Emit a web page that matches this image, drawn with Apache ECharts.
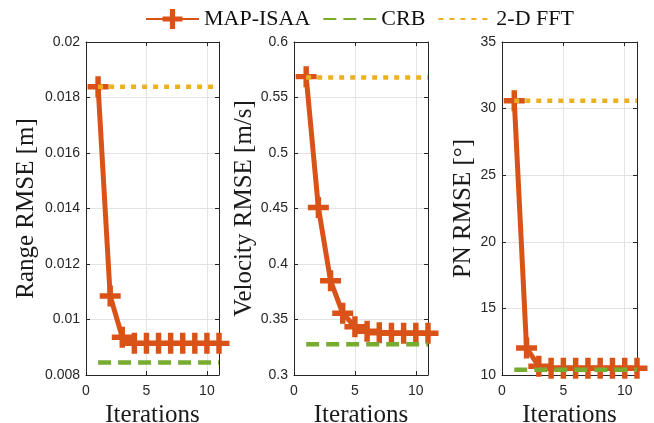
<!DOCTYPE html>
<html>
<head>
<meta charset="utf-8">
<script src="https://cdn.jsdelivr.net/npm/echarts@6/dist/echarts.min.js"></script>
<style>html,body{margin:0;padding:0;background:#fff}#c{width:654px;height:423px}</style>
</head>
<body>
<div id="c"></div>
<script>
// ---- data ----
const iterations = [1, 2, 3, 4, 5, 6, 7, 8, 9, 10, 11];
const seriesNames = ['MAP-ISAA', 'CRB', '2-D FFT'];

const rangeMap = [0.01839, 0.01085, 0.00936, 0.00914, 0.00914, 0.00914, 0.00914, 0.00914, 0.00914, 0.00914, 0.00914];
const rangeCrb = [0.00845, 0.00845, 0.00845, 0.00845, 0.00845, 0.00845, 0.00845, 0.00845, 0.00845, 0.00845, 0.00845];
const rangeFft = [0.01839, 0.01839, 0.01839, 0.01839, 0.01839, 0.01839, 0.01839, 0.01839, 0.01839, 0.01839, 0.01839];

const velMap = [0.5688, 0.4509, 0.3850, 0.3556, 0.3435, 0.3394, 0.3380, 0.3376, 0.3376, 0.3376, 0.3376];
const velCrb = [0.3277, 0.3277, 0.3277, 0.3277, 0.3277, 0.3277, 0.3277, 0.3277, 0.3277, 0.3277, 0.3277];
const velFft = [0.568, 0.568, 0.568, 0.568, 0.568, 0.568, 0.568, 0.568, 0.568, 0.568, 0.568];

const pnMap = [30.59, 12.03, 10.65, 10.5, 10.5, 10.5, 10.5, 10.5, 10.5, 10.5, 10.5];
const pnCrb = [10.4, 10.4, 10.4, 10.4, 10.4, 10.4, 10.4, 10.4, 10.4, 10.4, 10.4];
const pnFft = [30.59, 30.59, 30.59, 30.59, 30.59, 30.59, 30.59, 30.59, 30.59, 30.59, 30.59];

const yTitles = ['Range RMSE [m]', 'Velocity RMSE [m/s]', 'PN RMSE [\u00b0]'];
const xTitle = 'Iterations';
const yMin = [0.008, 0.3, 10];
const yMax = [0.02, 0.6, 35];
const yStep = [0.002, 0.05, 5];
const xMin = 0, xMax = 11, xStep = 5;

// ---- styles ----
const C_MAP = '#D95319', C_CRB = '#77AC30', C_FFT = '#EDB120';
const AX = '#262626';
const plusPath = 'path://M3.7,0H6.3V3.7H10V6.3H6.3V10H3.7V6.3H0V3.7H3.7Z';
const grids = [
  {left: 86, top: 42, width: 133, height: 333, outerBoundsMode: 'none', containLabel: false},
  {left: 294, top: 42, width: 134, height: 333, outerBoundsMode: 'none', containLabel: false},
  {left: 502, top: 42, width: 135, height: 333, outerBoundsMode: 'none', containLabel: false}
];
const yNameGap = [47, 37, 26];

function pairs(arr) { return iterations.map((x, i) => [x, arr[i]]); }
function fmt(v) { return String(+v.toFixed(4)); }

const xAxes = [], yAxes = [], series = [];
const dataSets = [[rangeMap, rangeCrb, rangeFft], [velMap, velCrb, velFft], [pnMap, pnCrb, pnFft]];

grids.forEach((g, i) => {
  xAxes.push({
    type: 'value', gridIndex: i, min: xMin, max: xMax, interval: xStep, position: 'bottom',
    name: xTitle, nameLocation: 'middle', nameGap: 28,
    nameTextStyle: {fontFamily: 'Liberation Serif', fontSize: 25, color: '#1a1a1a'},
    axisLine: {show: true, onZero: false, lineStyle: {color: AX, width: 1}},
    axisTick: {show: true, inside: true, length: 4, lineStyle: {color: AX}},
    axisLabel: {show: true, showMaxLabel: false, margin: 9, fontFamily: 'Liberation Sans', fontSize: 14, color: AX},
    splitLine: {show: true, lineStyle: {color: '#E3E3E3', width: 1}}
  });
  yAxes.push({
    type: 'value', gridIndex: i, min: yMin[i], max: yMax[i], interval: yStep[i], position: 'left',
    name: yTitles[i], nameLocation: 'middle', nameGap: yNameGap[i],
    nameTextStyle: {fontFamily: 'Liberation Serif', fontSize: 25, color: '#1a1a1a'},
    axisLine: {show: true, onZero: false, lineStyle: {color: AX, width: 1}},
    axisTick: {show: true, inside: true, length: 4, lineStyle: {color: AX}},
    axisLabel: {show: true, margin: 6, fontFamily: 'Liberation Sans', fontSize: 14, color: AX, formatter: fmt},
    splitLine: {show: true, lineStyle: {color: '#E3E3E3', width: 1}}
  });
});
grids.forEach((g, i) => {
  xAxes.push({
    type: 'value', gridIndex: i, min: xMin, max: xMax, interval: xStep, position: 'top',
    axisLine: {show: true, onZero: false, lineStyle: {color: AX, width: 1}},
    axisTick: {show: true, inside: true, length: 4, lineStyle: {color: AX}},
    axisLabel: {show: false}, splitLine: {show: false}
  });
  yAxes.push({
    type: 'value', gridIndex: i, min: yMin[i], max: yMax[i], interval: yStep[i], position: 'right',
    axisLine: {show: true, onZero: false, lineStyle: {color: AX, width: 1}},
    axisTick: {show: true, inside: true, length: 4, lineStyle: {color: AX}},
    axisLabel: {show: false}, splitLine: {show: false}
  });
});

dataSets.forEach((ds, i) => {
  series.push({
    name: seriesNames[0], type: 'line', xAxisIndex: i, yAxisIndex: i, data: pairs(ds[0]),
    symbol: plusPath, symbolSize: 21, showAllSymbol: true, z: 2,
    lineStyle: {color: C_MAP, width: 5}, itemStyle: {color: C_MAP},
    emphasis: {disabled: true}, animation: false
  });
  series.push({
    name: seriesNames[1], type: 'line', xAxisIndex: i, yAxisIndex: i, data: pairs(ds[1]),
    symbol: 'none', z: 3,
    lineStyle: {color: C_CRB, width: 4.5, type: [13, 7], cap: 'butt'}, itemStyle: {color: C_CRB},
    emphasis: {disabled: true}, animation: false
  });
  series.push({
    name: seriesNames[2], type: 'line', xAxisIndex: i, yAxisIndex: i, data: pairs(ds[2]),
    symbol: 'none', z: 4,
    lineStyle: {color: C_FFT, width: 4.5, type: [5, 6], cap: 'butt'}, itemStyle: {color: C_FFT},
    emphasis: {disabled: true}, animation: false
  });
});

const chart = echarts.init(document.getElementById('c'), null, {renderer: 'canvas'});
chart.setOption({
  animation: false,
  backgroundColor: '#fff',
  legend: {
    data: [
      {name: seriesNames[0]},
      {name: seriesNames[1], itemStyle: {opacity: 0}},
      {name: seriesNames[2], itemStyle: {opacity: 0}}
    ],
    left: 140, top: 3, itemWidth: 53, itemHeight: 25, itemGap: 12,
    textStyle: {fontFamily: 'Liberation Serif', fontSize: 22, color: '#111'},
    selectedMode: false
  },
  grid: grids,
  xAxis: xAxes,
  yAxis: yAxes,
  series: series
});
</script>
</body>
</html>
